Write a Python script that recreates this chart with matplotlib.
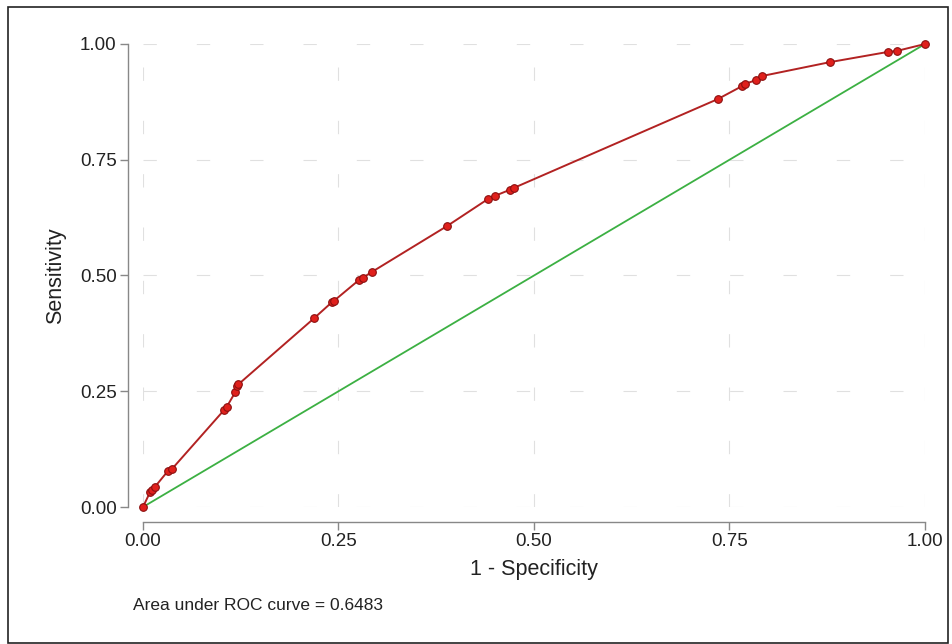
import matplotlib
matplotlib.use('Agg')
from matplotlib import pyplot as plt
from matplotlib.patches import Rectangle

# ROC 曲线的点 (1 - 特异度, 灵敏度)
fpr = [0.0, 0.009, 0.012, 0.015, 0.032, 0.037, 0.104, 0.107, 0.118, 0.120, 0.122,
       0.219, 0.242, 0.244, 0.276, 0.281, 0.293, 0.389, 0.441, 0.450, 0.469, 0.474,
       0.735, 0.766, 0.770, 0.784, 0.792, 0.879, 0.953, 0.964, 1.0]
tpr = [0.0, 0.032, 0.037, 0.043, 0.078, 0.082, 0.210, 0.216, 0.248, 0.261, 0.265,
       0.408, 0.443, 0.445, 0.490, 0.495, 0.508, 0.607, 0.665, 0.672, 0.685, 0.689,
       0.881, 0.909, 0.914, 0.922, 0.931, 0.961, 0.983, 0.985, 1.0]
ticks = [0.0, 0.25, 0.5, 0.75, 1.0]
tick_labels = ['0.00', '0.25', '0.50', '0.75', '1.00']
auc_text = 'Area under ROC curve = 0.6483'

plt.rcParams['font.family'] = ['Liberation Sans', 'DejaVu Sans']

W, H = 953, 644
fig = plt.figure(figsize=(W / 100, H / 100), dpi=100)
fig.patch.set_facecolor('white')

# 外框
fig.patches.append(Rectangle((8 / W, 1 - 643 / H), 940 / W, 636 / H,
                             transform=fig.transFigure, fill=False,
                             edgecolor='#222222', lw=1.2))

ax = fig.add_axes([143 / W, 1 - 507 / H, 782 / W, 463 / H])
ax.set_xlim(0, 1)
ax.set_ylim(0, 1)

# 网格线
for t in ticks:
    ax.axhline(t, color='#e0e0e0', lw=0.8, ls=(0, (12, 36)), zorder=0)
    ax.axvline(t, color='#e0e0e0', lw=0.8, ls=(0, (12, 36)), zorder=0)

ax.plot([0, 1], [0, 1], color='#3cb043', lw=1.3, zorder=2, clip_on=False)
ax.plot(fpr, tpr, color='#b22222', lw=1.4, marker='o', ms=5.5,
        mfc='#e0201c', mec='#8b1010', mew=0.8, zorder=3, clip_on=False)

for side in ['top', 'right']:
    ax.spines[side].set_visible(False)
for side in ['left', 'bottom']:
    ax.spines[side].set_position(('outward', 11))
    ax.spines[side].set_color('#888888')
    ax.spines[side].set_linewidth(1.0)
    ax.spines[side].set_bounds(0, 1)

ax.set_xticks(ticks)
ax.set_xticklabels(tick_labels)
ax.set_yticks(ticks)
ax.set_yticklabels(tick_labels)
ax.tick_params(axis='both', colors='#888888', labelcolor='#222222',
               labelsize=13.5, length=6, width=1.0, pad=2)

ax.set_xlabel('1 - Specificity', fontsize=15.5, color='#222222', labelpad=6)
ax.set_ylabel('Sensitivity', fontsize=15.5, color='#222222', labelpad=10)

fig.text(133 / W, 1 - 606 / H, auc_text, fontsize=12.5, color='#222222',
         ha='left', va='center')

fig.savefig('out.png', dpi=100)
